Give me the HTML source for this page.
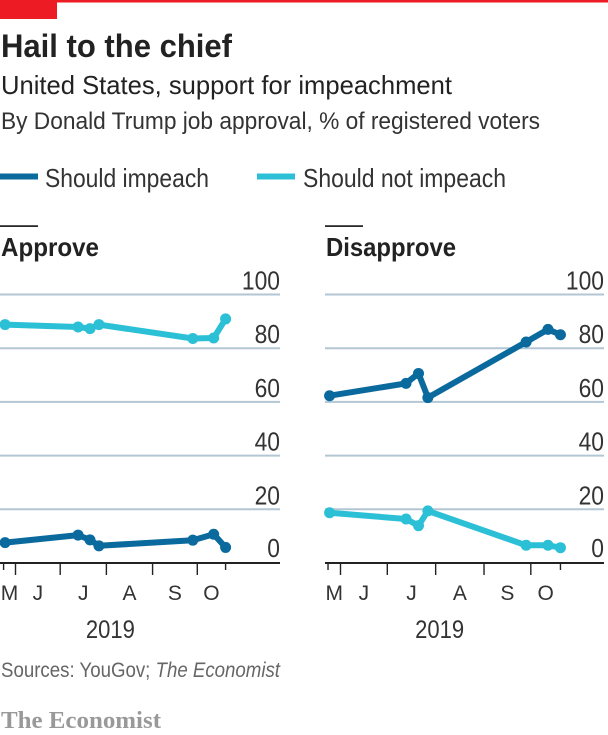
<!DOCTYPE html>
<html lang="en">
<head>
<meta charset="utf-8">
<title>Hail to the chief</title>
<style>
html,body{margin:0;padding:0;background:#fff;width:608px;height:735px;overflow:hidden}
svg{display:block}
text{font-family:"Liberation Sans",sans-serif;fill:#222}
</style>
</head>
<body>
<svg id="chart" width="608" height="735" viewBox="0 0 608 735" xmlns="http://www.w3.org/2000/svg">
  <rect x="0" y="0" width="608" height="2.5" fill="#ed1c24"/>
  <rect x="0" y="0" width="57" height="19" fill="#ed1c24"/>
  <text x="1" y="57" font-size="32" font-weight="bold" textLength="231" lengthAdjust="spacingAndGlyphs">Hail to the chief</text>
  <text x="1" y="94" font-size="26" textLength="451" lengthAdjust="spacingAndGlyphs" fill="#222">United States, support for impeachment</text>
  <text x="1" y="129" font-size="24" textLength="539" lengthAdjust="spacingAndGlyphs" style="fill:#333">By Donald Trump job approval, % of registered voters</text>

  <rect x="0" y="173.5" width="38" height="6" fill="#0a6a9e"/>
  <text x="45" y="187" font-size="26" textLength="164" lengthAdjust="spacingAndGlyphs" style="fill:#333">Should impeach</text>
  <rect x="257" y="173.5" width="38" height="6" fill="#2bc0d6"/>
  <text x="303" y="187" font-size="26" textLength="203" lengthAdjust="spacingAndGlyphs" style="fill:#333">Should not impeach</text>

  <g id="panels"></g>

  <text x="1" y="677" font-size="21" textLength="279" lengthAdjust="spacingAndGlyphs" style="fill:#666">Sources: YouGov; <tspan font-style="italic" style="fill:#666">The Economist</tspan></text>
  <text x="1" y="728" font-size="24" font-weight="bold" textLength="160" lengthAdjust="spacingAndGlyphs" style="font-family:'Liberation Serif',serif;fill:#999">The Economist</text>
</svg>
<script>
const dates = ["2019-05-25","2019-07-13","2019-07-21","2019-07-27","2019-09-28","2019-10-12","2019-10-20"];
const approveImpeach = [7.6,10.4,8.6,6.4,8.5,10.7,5.8];
const approveNotImpeach = [88.8,87.9,87.3,88.8,83.6,83.8,90.9];
const disapproveImpeach = [62.3,66.9,70.6,61.6,82.3,87,85];
const disapproveNotImpeach = [18.7,16.4,13.9,19.4,6.6,6.6,5.7];
const yTicks = [0,20,40,60,80,100];
const xTickDates = ["2019-05-24","2019-06-01","2019-07-01","2019-08-01","2019-09-01","2019-10-01","2019-10-20"];
const monthLabels = ["M","J","J","A","S","O"];
const yearLabel = "2019";

const NS = "http://www.w3.org/2000/svg";
const root = document.getElementById("panels");
const BLUE = "#0a6a9e", CYAN = "#2bc0d6";

function make(tag, attrs, parent, text) {
  const el = document.createElementNS(NS, tag);
  for (const k in attrs) el.setAttribute(k, attrs[k]);
  if (text !== undefined) el.textContent = text;
  parent.appendChild(el);
  return el;
}
function dayOffset(s) {
  return (Date.UTC(+s.slice(0,4), +s.slice(5,7)-1, +s.slice(8,10)) - Date.UTC(2019,5,1)) / 86400000;
}
function yScale(v) { return 563 - 2.685 * v; }

function drawPanel(name, title, titleWidth, left, right, x0, pxPerDay, lower, upper, lowerColor, upperColor) {
  const xScale = s => x0 + pxPerDay * dayOffset(s);
  const g = make("g", {}, root);
  
  

  const rule = make("rect", {x:left, y:225.3, width:38, height:1.6, fill:"#111"}, g);
  
  

  const t = make("text", {x:left+1, y:256, "font-size":26, "font-weight":"bold", textLength:titleWidth, lengthAdjust:"spacingAndGlyphs"}, g, title);
  
  

  yTicks.forEach(v => {
    const y = yScale(v);
    if (v !== 0) {
      const line = make("line", {x1:left, x2:right, y1:y, y2:y, stroke:"#b3c6d4", "stroke-width":2}, g);
      
      
    }
    const label = make("text", {x:right, y:y-(v===0?6:5), "font-size":26, "text-anchor":"end", textLength:String(v).length*12.7, lengthAdjust:"spacingAndGlyphs"}, g, v);
    
    
    label.style.fill = "#333";
  });

  const axis = make("line", {x1:left, x2:right, y1:563, y2:563, stroke:"#222", "stroke-width":2}, g);
  
  

  xTickDates.forEach((d, i) => {
    const x = xScale(d);
    const short = i === 0 || i === xTickDates.length - 1;
    const tick = make("line", {x1:x, x2:x, y1:563, y2:short?570:575, stroke:"#222", "stroke-width":1.4}, g);
    
    
  });

  monthLabels.forEach((m, i) => {
    const mid = (xScale(xTickDates[i]) + xScale(xTickDates[i+1])) / 2;
    const label = make("text", {x:mid, y:600, "font-size":21, "text-anchor":"middle"}, g, m);
    
    
    label.style.fill = "#333";
  });

  const yr = make("text", {x:xScale("2019-08-01")+4, y:638, "font-size":25, "text-anchor":"middle", textLength:49, lengthAdjust:"spacingAndGlyphs"}, g, yearLabel);
  
  
  yr.style.fill = "#333";

  drawSeries(g, name + '-should-not-impeach', name === "approve" ? upper : lower, name === "approve" ? upperColor : lowerColor, xScale);
  drawSeries(g, name + '-should-impeach', name === "approve" ? lower : upper, name === "approve" ? lowerColor : upperColor, xScale);
}

function drawSeries(g, name, values, color, xScale) {
  const pts = values.map((v, i) => xScale(dates[i]).toFixed(1) + "," + yScale(v).toFixed(1)).join(" ");
  const line = make("polyline", {points:pts, fill:"none", stroke:color, "stroke-width":6, "stroke-linejoin":"round"}, g);
  
  
  values.forEach((v, i) => {
    const dot = make("circle", {cx:xScale(dates[i]), cy:yScale(v), r:5.5, fill:color}, g);
    
    
  });
}

drawPanel("approve", "Approve", 98, 0, 280, 15.5, 1.49, approveImpeach, approveNotImpeach, BLUE, CYAN);
drawPanel("disapprove", "Disapprove", 130, 325, 604, 340.5, 1.56, disapproveNotImpeach, disapproveImpeach, CYAN, BLUE);
</script>
</body>
</html>
